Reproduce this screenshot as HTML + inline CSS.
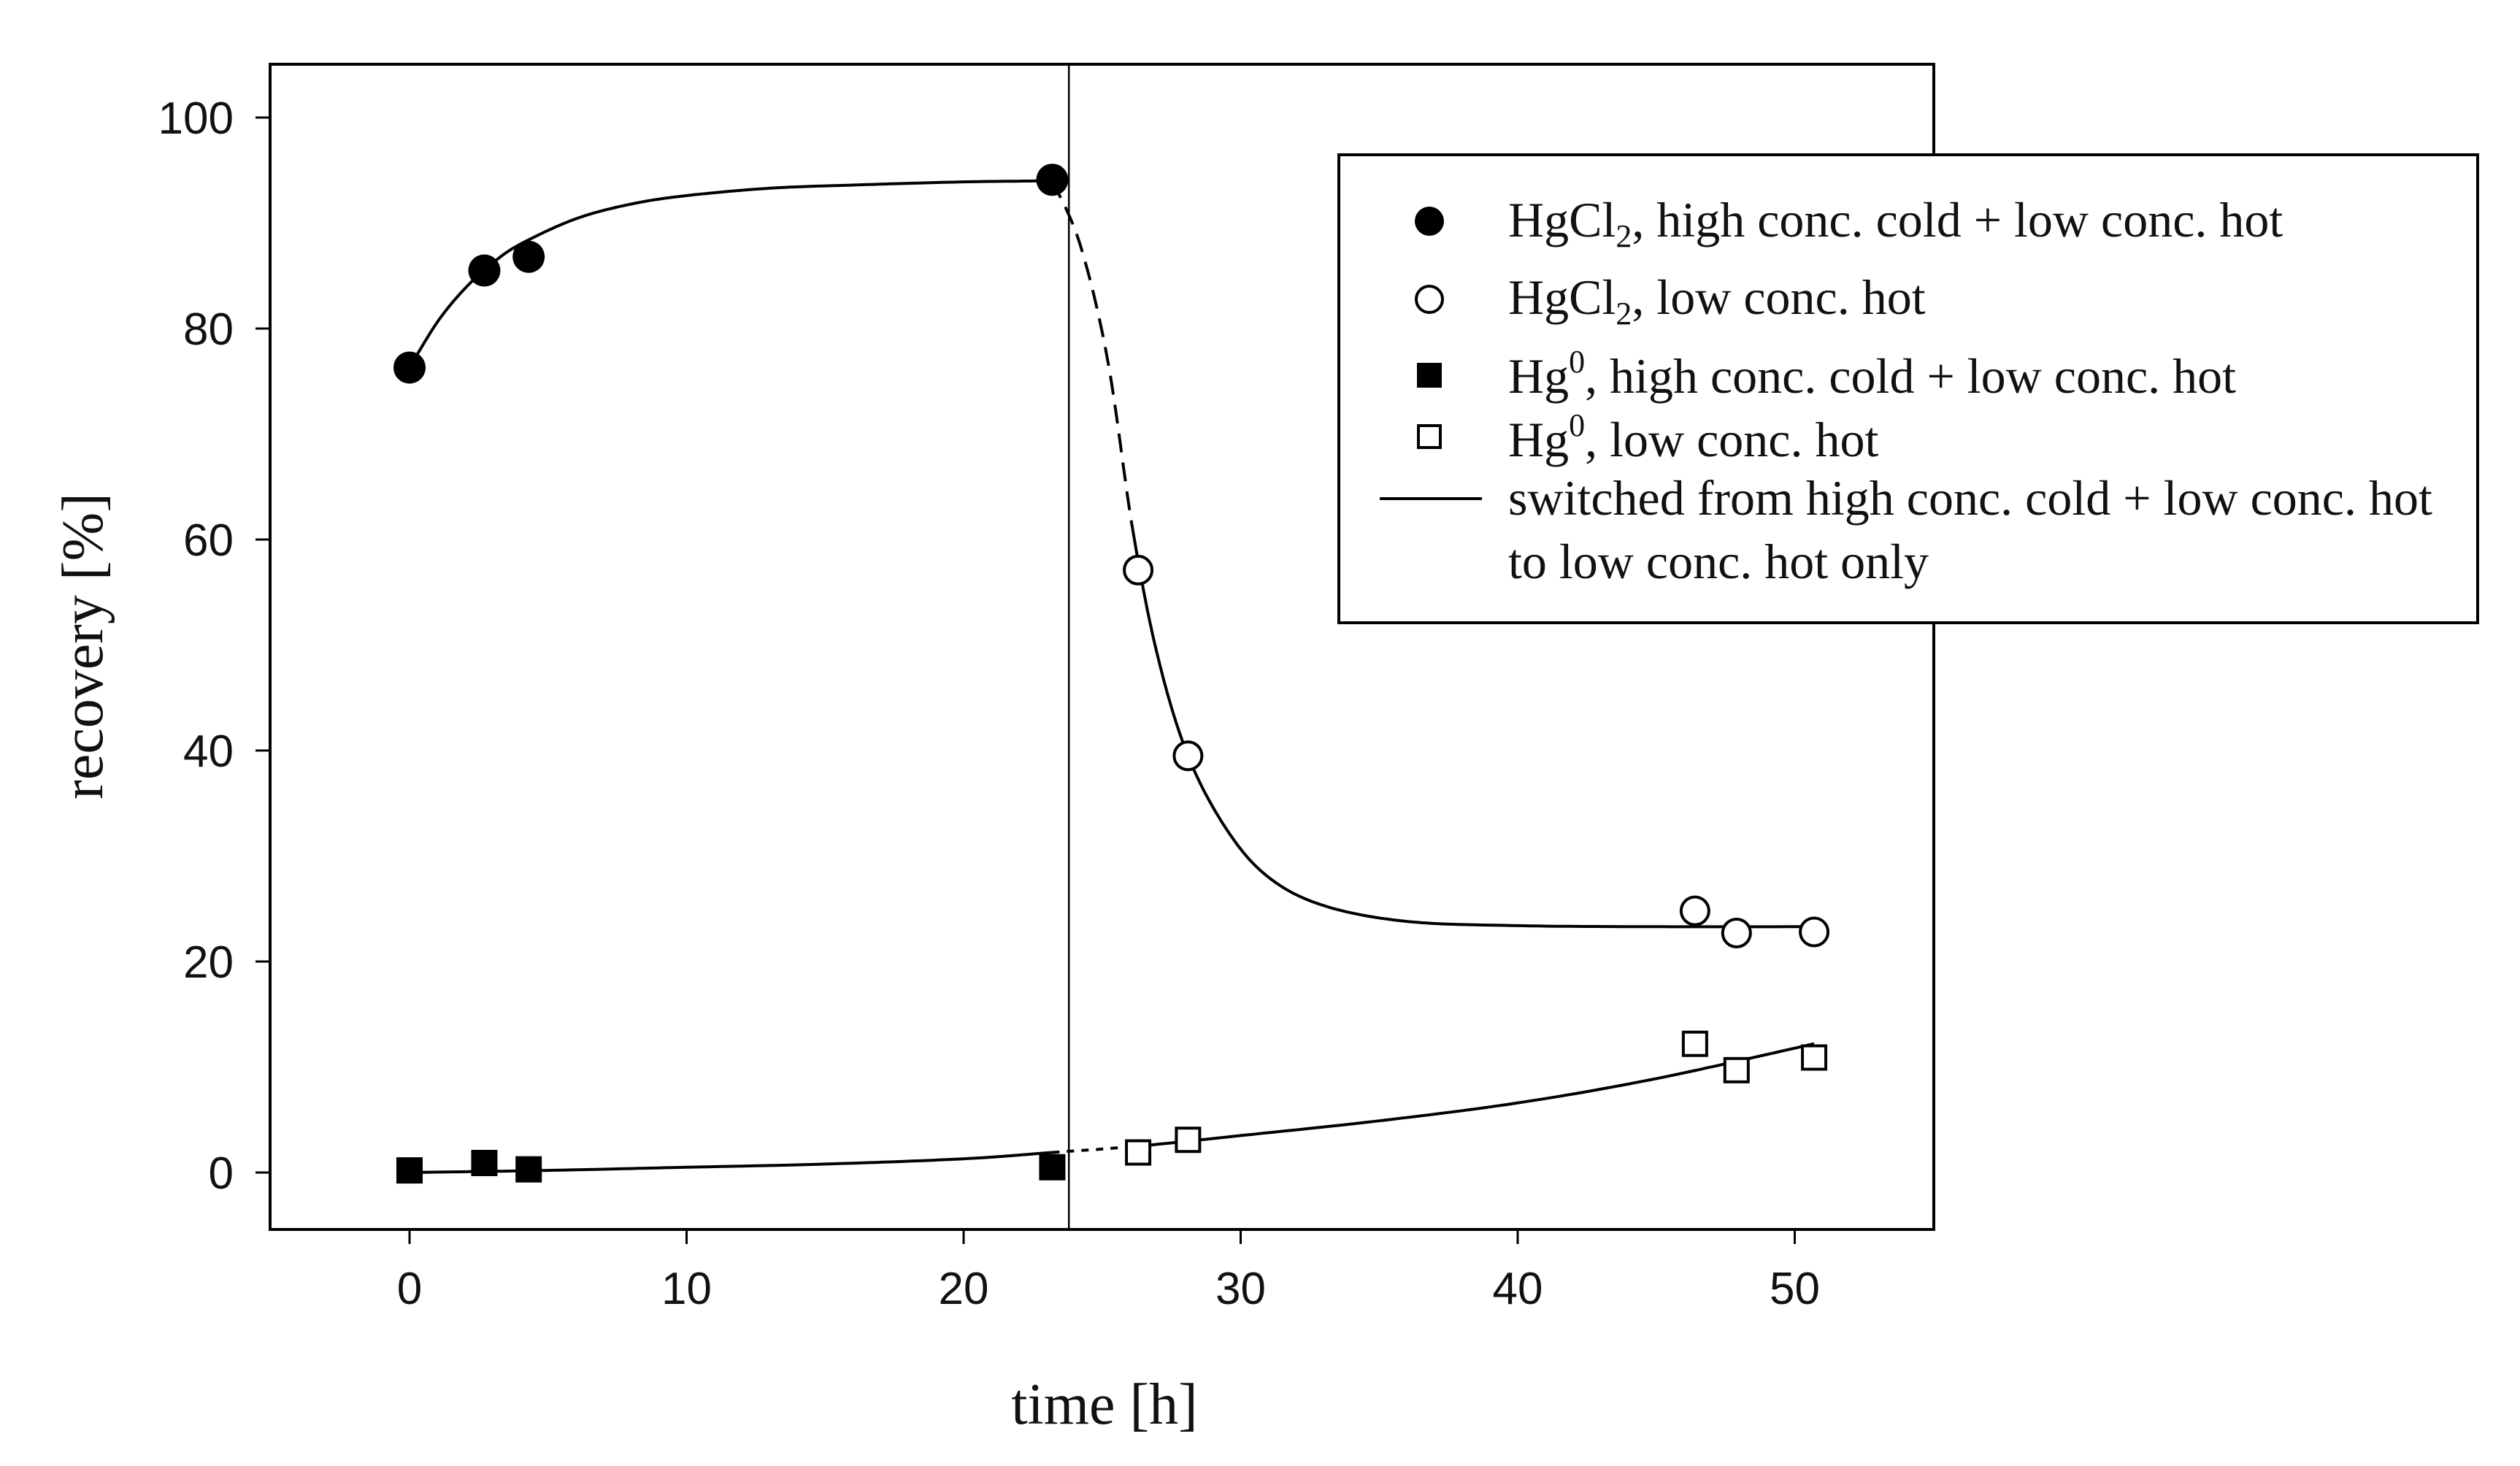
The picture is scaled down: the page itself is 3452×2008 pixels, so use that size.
<!DOCTYPE html>
<html><head><meta charset="utf-8"><style>
html,body{margin:0;padding:0;background:#fff}
svg{display:block}
.tick{font-family:"Liberation Sans",sans-serif;font-size:62px;fill:#111}
.ser{font-family:"Liberation Serif",serif;fill:#111}
</style></head><body>
<svg id="chart" width="3452" height="2008" viewBox="0 0 3452 2008" xmlns="http://www.w3.org/2000/svg">
<g id="plot"></g>
</svg>
<script>
// data
const filledCircleT=[0,2.7,4.3,23.2];
const filledCircleY=[76.3,85.5,86.8,94.1];
const openCircleT=[26.3,28.1,46.4,47.9,50.7];
const openCircleY=[57.1,39.5,24.8,22.7,22.8];
const filledSquareT=[0,2.7,4.3,23.2];
const filledSquareY=[0.2,0.9,0.3,0.5];
const openSquareT=[26.3,28.1,46.4,47.9,50.7];
const openSquareY=[1.9,3.1,12.2,9.7,10.9];
const fit1T=[0,1,2,3,4,6,8,10,13,16,20,23.2];
const fit1Y=[76.3,80.6,83.8,86.2,88,90.4,91.8,92.6,93.3,93.6,93.9,94];
const fit2T=[23.2,24.2,25.2,26.1,27,28.1,29.5,31,33,36,40,45,50.7];
const fit2Y=[94,88,77,61,49,39.5,32.5,28,25.3,23.8,23.4,23.3,23.3];
const fit3T=[0,5,10,15,20,23.2,26.3,30,35,40,45,50.7];
const fit3Y=[0,0.2,0.5,0.8,1.3,1.9,2.5,3.5,4.9,6.6,8.9,12.2];
const xTicks=[0,10,20,30,40,50];
const yTicks=[0,20,40,60,80,100];
const switchT=[23.8];

const L=370,R=2649,T=88,B=1684;
const x0=561,xPer=37.95, y0=1606,yPer=14.45;
const X=t=>x0+t*xPer, Y=v=>y0-v*yPer;
const NS="http://www.w3.org/2000/svg";
const svg=document.getElementById('chart');
function mk(tag,attrs,parent){const e=document.createElementNS(NS,tag);for(const k in attrs)e.setAttribute(k,attrs[k]);(parent||svg).appendChild(e);return e;}

// frame
const frame=mk('rect',{x:L,y:T,width:R-L,height:B-T,fill:'none',stroke:'#000','stroke-width':4});



xTicks.forEach(v=>{
  const l=mk('line',{x1:X(v),x2:X(v),y1:B,y2:B+20,stroke:'#000','stroke-width':3});
  
  
  const t=mk('text',{x:X(v),y:B+102,'text-anchor':'middle',class:'tick'});t.textContent=v;
  
  
});
yTicks.forEach(v=>{
  const l=mk('line',{x1:L-20,x2:L,y1:Y(v),y2:Y(v),stroke:'#000','stroke-width':3});
  
  
  const t=mk('text',{x:L-50,y:Y(v)+22,'text-anchor':'end',class:'tick'});t.textContent=v;
  
  
});

// switch line
switchT.forEach(s=>{
  const l=mk('line',{x1:X(s),x2:X(s),y1:T,y2:B,stroke:'#000','stroke-width':2.5});
  
  
});

function spline(ts,ys,from,to){
  const P=ts.map((t,i)=>[X(t),Y(ys[i])]);
  let pts=[];
  for(let i=0;i<P.length-1;i++){
    const p0=P[Math.max(i-1,0)],p1=P[i],p2=P[i+1],p3=P[Math.min(i+2,P.length-1)];
    for(let s=0;s<=20;s++){const u=s/20,u2=u*u,u3=u2*u;
      const px=0.5*((2*p1[0])+(-p0[0]+p2[0])*u+(2*p0[0]-5*p1[0]+4*p2[0]-p3[0])*u2+(-p0[0]+3*p1[0]-3*p2[0]+p3[0])*u3);
      const py=0.5*((2*p1[1])+(-p0[1]+p2[1])*u+(2*p0[1]-5*p1[1]+4*p2[1]-p3[1])*u2+(-p0[1]+3*p1[1]-3*p2[1]+p3[1])*u3);
      if(px>=X(from)-0.01&&px<=X(to)+0.01)pts.push(px.toFixed(1)+','+py.toFixed(1));}
  }
  return 'M'+pts.join('L');
}
function curve(d,dash,name){const p=mk('path',{d:d,fill:'none',stroke:'#000','stroke-width':4,'stroke-dasharray':dash||'none'});
  
  }
curve(spline(fit1T,fit1Y,0,23.2),null,'fit-hgcl2-high');
curve(spline(fit2T,fit2Y,23.2,26.1),'26,14','fit-hgcl2-transition');
curve(spline(fit2T,fit2Y,26.1,50.7),null,'fit-hgcl2-low');
curve(spline(fit3T,fit3Y,0,23.2),null,'fit-hg0-high');
curve(spline(fit3T,fit3Y,23.2,26.3),'10,10','fit-hg0-transition');
curve(spline(fit3T,fit3Y,26.3,50.7),null,'fit-hg0-low');

function circle(cx,cy,filled,name){const c=mk('circle',{cx:cx,cy:cy,r:filled?22:19,fill:filled?'#000':'#fff',stroke:'#000','stroke-width':filled?0:4});
  
  }
function square(cx,cy,filled,name){const s=filled?36:32;const r=mk('rect',{x:cx-s/2,y:cy-s/2,width:s,height:s,fill:filled?'#000':'#fff',stroke:'#000','stroke-width':filled?0:4});
  
  }
filledCircleT.forEach((t,i)=>circle(X(t),Y(filledCircleY[i]),true,'point-hgcl2-high'));
openCircleT.forEach((t,i)=>circle(X(t),Y(openCircleY[i]),false,'point-hgcl2-low'));
filledSquareT.forEach((t,i)=>square(X(t),Y(filledSquareY[i]),true,'point-hg0-high'));
openSquareT.forEach((t,i)=>square(X(t),Y(openSquareY[i]),false,'point-hg0-low'));

// axis titles
const yt=mk('text',{x:0,y:0,transform:'translate(140,885) rotate(-90)','text-anchor':'middle',class:'ser','font-size':80});
yt.textContent='recovery [%]';


const xt=mk('text',{x:1513,y:1950,'text-anchor':'middle',class:'ser','font-size':80});
xt.textContent='time [h]';



// legend
const lg=mk('g',{});


const lb=mk('rect',{x:1834,y:212,width:1560,height:641,fill:'#fff',stroke:'#000','stroke-width':4},lg);


const mx=1958, tx=2066;
function ltext(y,html,name){const t=mk('text',{x:tx,y:y,class:'ser','font-size':68},lg);t.innerHTML=html;
  
  }
const c1=mk('circle',{cx:mx,cy:303,r:20,fill:'#000'},lg);


ltext(324,'HgCl<tspan font-size="44" dy="14">2</tspan><tspan dy="-14">, high conc. cold + low conc. hot</tspan>','legend-entry-hgcl2-high');
const c2=mk('circle',{cx:mx,cy:410,r:18,fill:'#fff',stroke:'#000','stroke-width':4},lg);


ltext(430,'HgCl<tspan font-size="44" dy="14">2</tspan><tspan dy="-14">, low conc. hot</tspan>','legend-entry-hgcl2-low');
const s1=mk('rect',{x:mx-17,y:497,width:34,height:34,fill:'#000'},lg);


ltext(538,'Hg<tspan font-size="44" dy="-28">0</tspan><tspan dy="28">, high conc. cold + low conc. hot</tspan>','legend-entry-hg0-high');
const s2=mk('rect',{x:mx-15,y:583,width:30,height:30,fill:'#fff',stroke:'#000','stroke-width':4},lg);


ltext(625,'Hg<tspan font-size="44" dy="-28">0</tspan><tspan dy="28">, low conc. hot</tspan>','legend-entry-hg0-low');
const ll=mk('line',{x1:1890,x2:2030,y1:683,y2:683,stroke:'#000','stroke-width':4},lg);


ltext(705,'switched from high conc. cold + low conc. hot','legend-entry-switch');
ltext(792,'to low conc. hot only','legend-entry-switch-cont');
</script>
</body></html>
